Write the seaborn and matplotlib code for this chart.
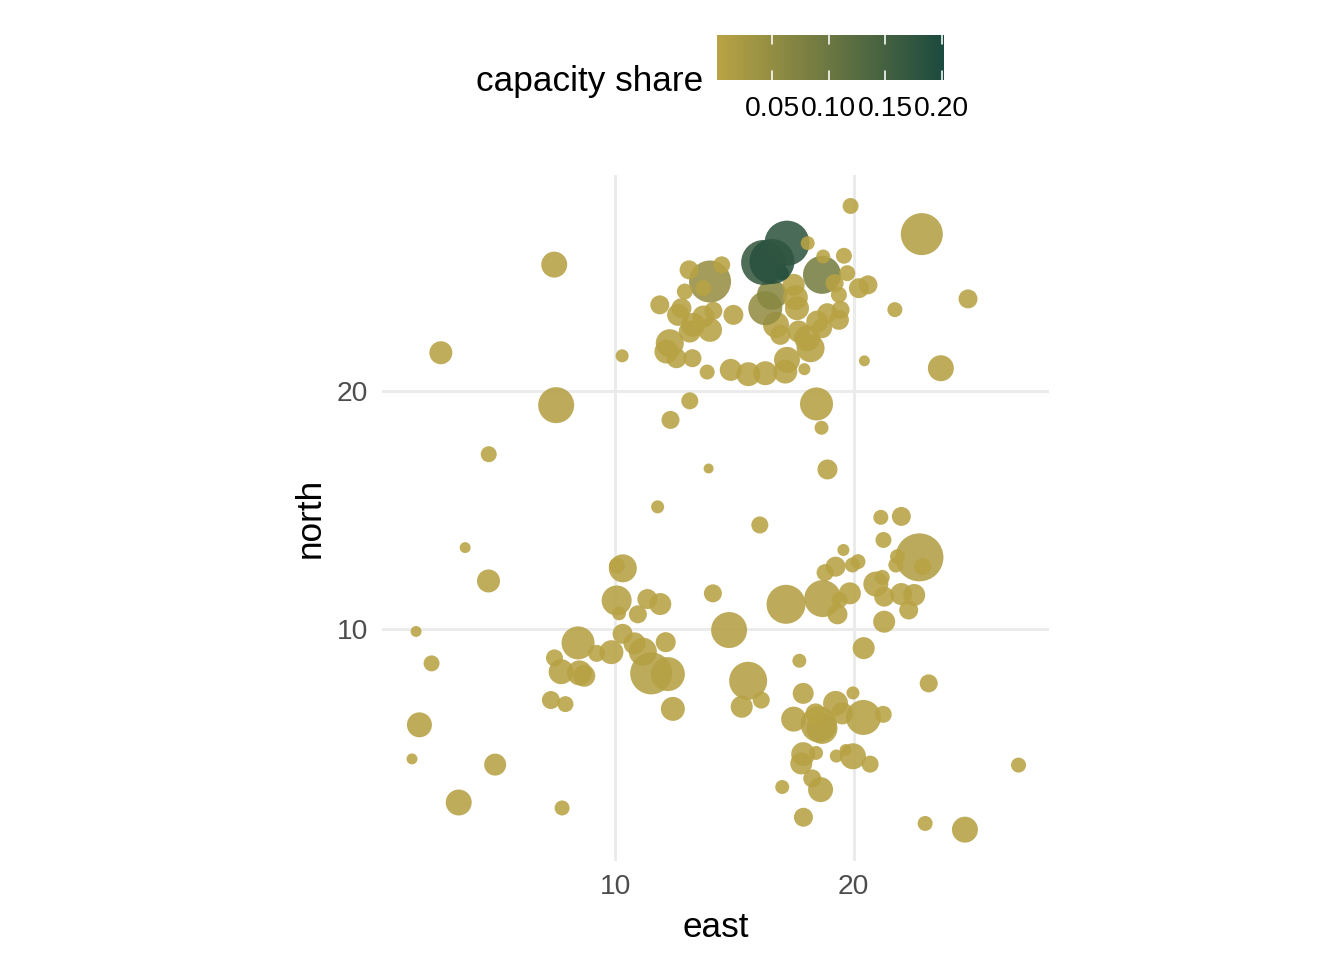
import pandas as pd
import seaborn as sns
import matplotlib.pyplot as plt
from matplotlib.colors import LinearSegmentedColormap, Normalize
from matplotlib.cm import ScalarMappable

# Site coordinates (east, north), installed capacity and capacity share
east = [
    # west
    7.43, 2.67, 7.51, 4.68, 3.69, 4.67, 1.63, 2.28, 1.77, 1.46, 4.95, 3.42, 7.76,
    # lower-left cluster
    8.43, 7.44, 9.21, 9.83, 7.72, 8.49, 8.69, 7.29, 7.90, 10.31, 10.06, 10.05,
    11.34, 11.88, 10.94, 10.15, 11.15, 12.11, 11.50, 12.20, 12.41, 10.30, 10.80,
    # middle and south-east
    13.12, 12.31, 13.91, 11.77, 16.06, 14.09, 17.16, 14.77, 15.57, 15.30, 16.12,
    17.72, 17.88, 17.48, 18.53, 17.88, 17.80, 18.42, 18.26, 18.61, 17.00, 17.89,
    18.67, 19.24, 19.52, 18.40, 19.66, 19.27, 19.97, 20.69, 20.41, 21.24, 19.97,
    20.42, 23.15, 26.92, 23.00, 24.67,
    # east cluster
    21.14, 22.00, 21.25, 19.57, 22.76, 22.90, 21.84, 21.77, 19.24, 18.80, 20.18,
    19.95, 20.93, 21.20, 21.28, 22.00, 22.54, 22.31, 19.84, 18.70, 19.41, 19.32,
    21.28, 18.44, 18.65, 18.90,
    # north-east
    19.87, 22.86, 19.59, 20.60, 20.22, 19.38, 24.80, 21.73, 19.45, 19.38, 20.45,
    23.66, 10.28,
    # top cluster
    13.97, 13.69, 13.09, 14.46, 12.91, 11.86, 12.77, 12.63, 14.11, 13.69, 14.95,
    13.26, 13.97, 13.12, 12.28, 12.14, 12.56, 13.23, 13.85, 14.84, 15.58, 16.29,
    17.13, 17.93, 17.20, 18.19, 18.05, 18.47, 18.67, 17.69, 16.74, 16.92, 16.29,
    16.57, 17.55, 17.62, 17.48, 18.89, 18.67, 18.72, 19.73, 19.20,
    16.99, 16.22, 16.57, 17.20, 18.07,
]
north = [
    25.30, 21.60, 19.40, 17.34, 13.42, 12.02, 9.90, 8.56, 5.98, 4.55, 4.31, 2.72, 2.49,
    9.42, 8.79, 8.98, 9.03, 8.21, 8.16, 8.04, 7.02, 6.85, 12.55, 12.66, 11.20,
    11.26, 11.05, 10.62, 10.66, 9.05, 9.45, 8.14, 8.11, 6.65, 9.80, 9.40,
    19.58, 18.78, 16.74, 15.13, 14.37, 11.50, 11.04, 9.96, 7.83, 6.74, 7.02,
    8.67, 7.30, 6.22, 6.00, 4.75, 4.36, 4.80, 3.73, 3.26, 3.37, 2.10,
    5.83, 6.88, 6.46, 6.46, 4.92, 4.67, 4.66, 4.33, 6.29, 6.42, 7.32,
    9.20, 7.72, 4.29, 1.84, 1.58,
    14.69, 14.73, 13.74, 13.32, 13.01, 12.62, 13.04, 12.69, 12.62, 12.37, 12.83,
    12.69, 11.89, 12.17, 11.36, 11.47, 11.43, 10.80, 11.50, 11.28, 11.22, 10.62,
    10.31, 19.45, 18.45, 16.70,
    27.76, 26.58, 25.67, 24.45, 24.31, 24.03, 23.86, 23.41, 23.40, 22.98, 21.26,
    20.95, 21.47,
    24.59, 24.31, 25.08, 25.29, 24.17, 23.61, 23.47, 23.19, 23.36, 23.12, 23.19,
    22.77, 22.56, 22.49, 22.00, 21.65, 21.37, 21.37, 20.79, 20.88, 20.70, 20.74,
    20.81, 20.91, 21.30, 21.79, 22.21, 22.91, 22.63, 22.49, 22.77, 22.35, 23.47,
    24.03, 23.92, 23.47, 24.45, 23.26, 24.87, 25.64, 24.94, 24.52,
    24.94, 25.39, 25.43, 26.20, 26.20,
]
capacity = [
    135, 106, 259, 51, 24, 106, 24, 51, 125, 24, 97, 135, 45,
    218, 58, 58, 115, 125, 125, 97, 65, 51, 157, 51, 180,
    80, 97, 65, 39, 157, 80, 353, 231, 115, 80, 97,
    58, 65, 20, 34, 58, 65, 304, 259, 289, 97, 58,
    39, 88, 125, 259, 115, 97, 39, 65, 125, 39, 72,
    192, 125, 97, 80, 29, 34, 135, 58, 245, 58, 34,
    97, 65, 45, 45, 135,
    45, 72, 51, 29, 461, 58, 45, 45, 80, 58, 45,
    45, 125, 45, 80, 97, 97, 72, 97, 274, 51, 80,
    97, 218, 39, 80,
    51, 353, 51, 72, 80, 51, 72, 45, 65, 80, 24,
    135, 34,
    353, 51, 72, 58, 51, 72, 80, 97, 65, 97, 80,
    115, 115, 97, 157, 115, 80, 65, 45, 97, 115, 115,
    115, 29, 135, 157, 135, 97, 80, 97, 135, 80, 231,
    180, 125, 115, 97, 80, 289, 39, 51, 65,
    39, 405, 405, 405, 39,
]
share = [
    .005, .004, .008, .002, .001, .004, .001, .002, .005, .001, .004, .005, .002,
    .007, .002, .002, .004, .005, .005, .004, .003, .002, .005, .002, .006,
    .003, .004, .003, .002, .005, .003, .009, .007, .004, .003, .004,
    .002, .003, .001, .001, .002, .003, .008, .008, .008, .004, .002,
    .002, .003, .005, .008, .004, .004, .002, .003, .005, .002, .003,
    .006, .005, .004, .003, .001, .001, .005, .002, .007, .002, .001,
    .004, .003, .002, .002, .005,
    .002, .003, .002, .001, .010, .002, .002, .002, .003, .002, .002,
    .002, .005, .002, .003, .004, .004, .003, .004, .008, .002, .003,
    .004, .007, .002, .003,
    .002, .009, .002, .003, .003, .002, .003, .002, .003, .003, .001,
    .005, .001,
    .045, .002, .003, .002, .002, .003, .003, .004, .003, .004, .003,
    .004, .004, .004, .005, .004, .003, .003, .002, .004, .004, .004,
    .004, .001, .005, .005, .005, .004, .003, .004, .005, .003, .050,
    .062, .005, .004, .004, .003, .085, .002, .002, .003,
    .202, .165, .185, .175, .002,
]

df = pd.DataFrame({"east": east, "north": north, "capacity": capacity, "share": share})

cmap = LinearSegmentedColormap.from_list("share", ["#B9A344", "#1B4A3F"])
share_norm = Normalize(min(share), max(share))
bar_ticks = [0.05, 0.10, 0.15, 0.20]

sns.set_theme(style="white")
plt.rcParams["font.family"] = ["Liberation Sans", "DejaVu Sans"]

fig = plt.figure(figsize=(7, 5), dpi=192)
ax = fig.add_axes([0.2718, 0.1033, 0.5208, 0.7146])

sns.scatterplot(
    data=df, x="east", y="north",
    hue="share", palette=cmap, hue_norm=share_norm,
    size="capacity", sizes=(0, 351.6), size_norm=(0, 500),
    alpha=0.88, linewidth=0, legend=False, ax=ax,
)

# ggplot-like 5% expansion, fixed aspect
xpad = 0.05 * (max(east) - min(east))
ypad = 0.05 * (max(north) - min(north))
ax.set_xlim(min(east) - xpad, max(east) + xpad)
ax.set_ylim(min(north) - ypad, max(north) + ypad)
ax.set_aspect("equal", adjustable="box", anchor="C")

ax.set_xticks([10, 20])
ax.set_yticks([10, 20])
ax.grid(True, color="#EBEBEB", linewidth=1.1)
ax.set_axisbelow(True)
for s in ax.spines.values():
    s.set_visible(False)
ax.tick_params(length=0, labelsize=10.6, labelcolor="#4D4D4D", pad=5)
ax.set_xlabel("east", fontsize=13.2, color="black", labelpad=4)
ax.set_ylabel("north", fontsize=13.2, color="black", labelpad=4)

# colour bar legend on top
cax = fig.add_axes([717 / 1344, 1 - 80 / 960, 227 / 1344, 45 / 960])
cb = fig.colorbar(ScalarMappable(norm=share_norm, cmap=cmap), cax=cax,
                  orientation="horizontal", ticks=bar_ticks)
cb.outline.set_visible(False)
cb.ax.set_xticklabels([f"{t:.2f}" for t in bar_ticks])
cax.tick_params(length=0, labelsize=10.6, labelcolor="black", pad=6)
for t in bar_ticks:
    cax.axvline(t, ymin=0, ymax=0.2, color="white", linewidth=0.6)
    cax.axvline(t, ymin=0.8, ymax=1, color="white", linewidth=0.6)
fig.text(703 / 1344, 1 - 81 / 960, "capacity share", ha="right", va="center",
         fontsize=13.2, color="black")

plt.savefig("out.png", dpi=192)
